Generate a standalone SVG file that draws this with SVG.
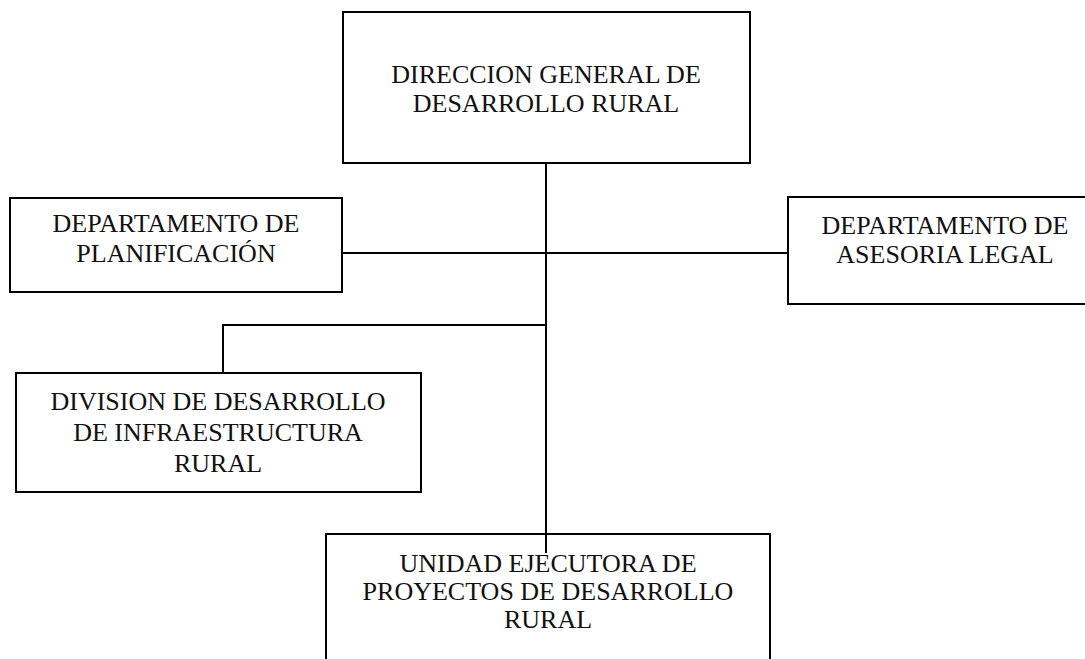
<svg xmlns="http://www.w3.org/2000/svg" width="1085" height="659" viewBox="0 0 1085 659">
<style>
.box{fill:#fff;stroke:#000;stroke-width:2}
.t{font-family:"Liberation Serif","Times New Roman",serif;font-size:26px;fill:#111;text-anchor:middle}
.c{stroke:#000;stroke-width:2;fill:none}
</style>
<rect width="1085" height="659" fill="#fff"/>
<g id="connectors">
<line class="c" x1="546" y1="163" x2="546" y2="553"/>
<line class="c" x1="342" y1="253" x2="788" y2="253"/>
<polyline class="c" points="546,325 223,325 223,373"/>
</g>
<g id="n-direccion">
<rect class="box" x="343" y="12" width="407" height="151"/>
<text class="t" x="546" y="83">DIRECCION GENERAL DE</text>
<text class="t" x="546" y="112">DESARROLLO RURAL</text>
</g>
<g id="n-planificacion">
<rect class="box" x="10" y="198" width="332" height="94"/>
<text class="t" x="176" y="232">DEPARTAMENTO DE</text>
<text class="t" x="176" y="262">PLANIFICACIÓN</text>
</g>
<g id="n-asesoria">
<rect class="box" x="788" y="197" width="314" height="107"/>
<text class="t" x="945" y="234">DEPARTAMENTO DE</text>
<text class="t" x="945" y="263">ASESORIA LEGAL</text>
</g>
<g id="n-division">
<rect class="box" x="16" y="373" width="405" height="119"/>
<text class="t" x="218" y="410">DIVISION DE DESARROLLO</text>
<text class="t" x="218" y="441">DE INFRAESTRUCTURA</text>
<text class="t" x="218" y="472">RURAL</text>
</g>
<g id="n-unidad">
<rect class="box" x="326" y="534" width="444" height="140"/>
<line class="c" x1="546" y1="534" x2="546" y2="553"/>
<text class="t" x="548" y="572">UNIDAD EJECUTORA DE</text>
<text class="t" x="548" y="600">PROYECTOS DE DESARROLLO</text>
<text class="t" x="548" y="628">RURAL</text>
</g>
</svg>
